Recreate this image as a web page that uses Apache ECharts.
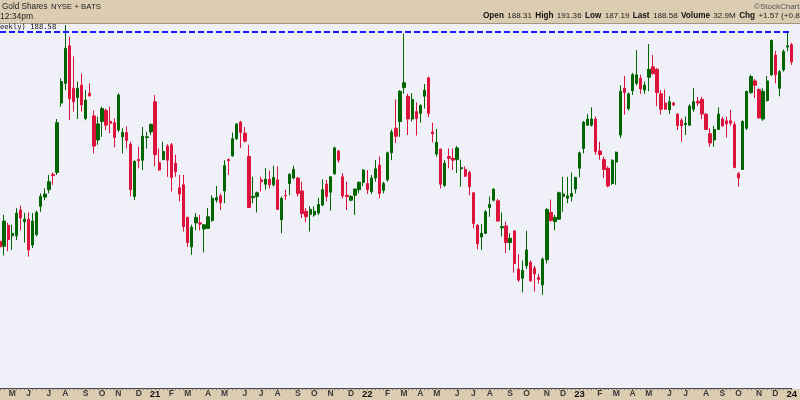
<!DOCTYPE html>
<html><head><meta charset="utf-8">
<script src="https://cdn.jsdelivr.net/npm/echarts@6/dist/echarts.min.js"></script>
<style>html,body{margin:0;padding:0;background:#F0F0F8}#c{width:800px;height:400px}</style>
</head><body><div id="c"></div>
<script>
// Weekly candles, first week starting Monday 2020-04-13
const firstWeek = '2020-04-13';
const openP = [
159.3,158.5,161.9,160.2,160.2,164.4,162.5,162.9,158.7,160.4,
165.0,166.5,167.7,170.2,170.5,181.8,185.0,191.1,184.2,182.7,
184.7,179.3,183.4,179.7,175.8,178.8,180.6,178.8,178.6,177.4,
176.3,177.0,175.1,166.6,172.6,172.5,176.2,177.1,182.0,172.1,
172.6,174.8,175.0,172.0,168.0,168.5,163.2,158.4,162.3,162.3,
161.3,161.4,162.7,166.0,166.7,167.5,172.6,173.2,176.0,178.7,
176.9,173.1,166.4,166.6,169.3,168.6,169.4,168.5,169.3,162.8,
166.8,168.7,169.6,169.6,167.5,164.2,163.7,163.6,163.9,165.2,
168.6,167.3,170.3,174.0,169.8,166.8,166.0,166.8,167.7,168.9,
168.7,167.4,169.6,171.7,167.6,169.3,173.7,177.7,178.8,184.3,
182.9,179.2,180.4,180.1,182.9,185.9,177.1,173.5,174.3,168.4,
173.1,172.8,172.6,171.1,171.0,170.5,167.2,161.9,160.0,160.6,
164.8,166.0,165.9,161.5,161.8,159.1,161.0,154.8,153.3,155.3,
155.9,154.9,153.4,152.2,156.3,164.0,162.5,162.9,166.6,166.3,
166.6,167.8,171.2,174.4,178.2,178.2,179.2,174.0,172.6,171.2,
168.7,172.2,176.6,184.2,180.9,183.8,185.0,185.8,183.9,186.0,
187.7,187.3,183.3,181.8,180.7,181.8,180.0,179.0,178.3,178.2,
180.8,182.1,182.4,180.0,176.8,175.8,177.5,179.2,178.9,178.9,
178.3,170.3,171.0,177.7,183.5,185.4,184.0,179.2,182.2,186.4,
189.6,184.2,187.2,190.9,191.3];
const closeP = [
158.4,162.6,159.6,160.6,163.9,163.1,162.9,157.9,162.6,164.0,
166.6,167.0,169.0,170.0,178.6,185.3,190.7,182.5,182.0,184.2,
181.5,182.3,183.0,174.8,178.4,180.9,178.2,178.5,176.2,183.1,
177.0,175.7,167.7,172.3,172.4,176.4,176.3,178.3,173.4,170.9,
173.9,172.5,169.7,170.6,167.0,161.7,159.1,161.6,163.2,162.1,
162.0,163.3,166.3,166.4,165.6,171.6,172.4,176.0,178.4,177.0,
175.6,164.8,166.6,167.2,169.0,169.4,168.5,169.7,164.5,166.3,
166.7,170.2,171.0,167.1,163.8,163.3,164.5,164.2,165.3,167.7,
166.6,169.8,174.5,172.5,166.7,166.6,166.6,167.8,168.9,170.9,
167.7,169.6,171.1,167.1,168.7,173.7,177.1,176.4,183.7,185.1,
179.2,182.4,179.3,181.4,183.9,180.1,176.8,175.4,168.6,172.0,
172.8,172.5,174.5,171.3,169.9,168.2,162.2,158.9,160.6,164.1,
165.3,167.8,162.6,161.7,159.1,159.8,155.7,153.0,154.6,157.9,
152.9,154.0,153.1,156.4,164.5,162.7,163.2,167.2,167.0,166.7,
167.1,169.7,173.7,178.7,179.2,179.2,173.9,173.4,171.0,168.3,
172.5,173.8,183.7,183.5,183.3,186.4,186.4,184.1,184.7,187.3,
186.6,183.5,180.8,180.8,182.0,181.5,178.1,178.1,178.5,181.3,
182.0,181.8,180.0,177.5,175.3,177.5,180.0,178.1,178.4,178.5,
171.3,169.6,178.8,183.7,186.1,184.7,179.4,183.7,185.4,192.0,
186.4,186.9,190.2,191.1,188.5];
const lowP = [
158.2,157.0,157.7,157.9,159.5,161.1,159.1,156.8,158.2,160.1,
164.1,166.0,167.1,168.5,170.1,181.2,183.9,179.0,180.4,179.2,
180.4,179.0,182.8,173.6,175.0,176.3,177.4,176.9,174.6,177.1,
173.6,174.4,166.6,166.0,171.2,170.9,174.4,176.6,171.5,170.8,
172.5,169.8,167.4,169.8,165.8,160.9,158.4,157.1,161.1,161.1,
157.5,161.3,162.5,165.6,164.4,165.5,170.1,173.1,175.8,174.5,
175.4,164.7,165.5,164.0,167.4,167.7,167.9,168.2,164.4,160.6,
166.0,166.8,169.4,166.6,163.1,162.4,160.9,163.3,163.6,165.0,
165.8,164.3,170.1,172.1,166.3,164.4,165.8,163.6,167.1,168.3,
167.0,167.0,169.0,166.3,167.1,169.0,172.5,175.3,176.3,183.3,
176.6,178.8,176.5,178.6,180.9,179.5,175.4,173.1,167.9,168.2,
171.2,170.9,170.4,168.2,169.8,166.8,161.4,158.0,157.9,160.5,
163.3,165.8,162.5,160.1,157.4,157.9,154.2,152.7,151.0,154.8,
152.7,151.1,152.4,150.6,155.7,162.5,161.1,162.8,164.1,165.5,
165.8,167.1,169.7,173.6,178.1,178.0,173.4,172.6,169.6,168.1,
168.5,168.5,176.1,179.9,180.6,183.1,184.7,183.3,183.3,183.7,
186.4,181.3,179.9,180.7,180.0,181.3,177.4,175.5,176.6,178.1,
180.4,181.3,179.2,177.4,174.7,174.7,177.4,177.9,176.2,178.1,
171.2,168.2,170.9,177.4,183.3,182.6,179.2,178.9,182.0,186.2,
185.0,182.9,186.9,190.2,188.0];
const highP = [
164.4,163.6,162.3,162.0,164.7,165.1,163.9,164.0,163.9,164.3,
167.1,167.9,170.1,170.5,179.2,185.8,194.5,192.6,189.4,185.3,
186.6,183.9,185.0,180.6,179.6,181.2,180.9,181.2,179.3,183.4,
177.7,178.0,175.5,172.5,174.7,177.9,177.1,178.5,183.1,174.4,
175.5,175.1,175.3,173.4,170.1,170.1,163.3,162.0,163.9,163.6,
162.1,164.7,166.8,168.3,167.1,172.5,172.8,177.0,178.5,178.9,
177.9,175.0,169.8,167.4,169.8,171.2,170.8,171.6,171.5,166.6,
167.7,170.4,171.6,169.8,169.0,164.7,165.0,165.0,166.4,169.4,
169.3,169.9,174.7,174.2,170.4,169.0,166.8,167.9,169.0,171.0,
170.9,170.1,172.5,173.1,169.0,173.9,177.5,182.4,183.9,193.1,
183.3,183.4,181.9,181.6,184.9,186.1,178.6,177.6,174.4,172.5,
174.4,174.4,174.8,172.6,171.5,170.8,167.3,162.1,162.1,164.4,
166.6,167.9,166.2,164.0,162.5,160.6,161.1,157.2,156.2,161.0,
156.2,155.3,154.0,156.7,164.7,166.1,163.6,167.4,169.8,169.8,
170.5,169.8,173.9,178.9,180.0,181.1,179.6,175.5,173.1,171.5,
172.6,173.9,184.7,186.2,183.5,186.7,190.4,186.4,185.3,191.4,
189.6,187.5,183.9,184.0,182.9,182.0,180.1,179.3,179.6,181.6,
184.2,182.8,182.8,180.1,177.7,178.1,181.1,179.6,179.6,180.7,
178.8,170.6,179.0,183.8,186.4,185.7,184.2,184.2,186.2,192.1,
190.3,187.2,190.5,193.4,191.6];
const monthLetters = ['J','F','M','A','M','J','J','A','S','O','N','D'];
const resistanceLevel = 193.4;
const quoteLabels = ['Open', 'High', 'Low', 'Last', 'Volume', 'Chg'];
const quoteValues = ['188.31', '191.36', '187.19', '188.58', '32.9M', '+1.57 (+0.84%)'];

const weeks = [];
(function () {
  const t0 = Date.parse(firstWeek + 'T00:00:00Z');
  for (let i = 0; i < openP.length; i++) weeks.push(new Date(t0 + i * 7 * 86400000).toISOString().slice(0, 10));
})();
const ohlc = openP.map((o, i) => [o, closeP[i], lowP[i], highP[i]]);

const F = '"Liberation Sans", Arial, sans-serif';
function txt(x, y, s, font, fill) {
  return { type: 'text', x: x, y: y, z: 20, style: { text: s, font: font, fill: fill, align: 'left', verticalAlign: 'middle' } };
}
const quoteText = quoteLabels.map((l, i) => '{b|' + l + '} {v|' + quoteValues[i] + '}').join(' ');

const chart = echarts.init(document.getElementById('c'), null, { renderer: 'canvas' });
chart.setOption({
  animation: false,
  backgroundColor: '#F0F0F8',
  grid: { left: 0, right: 1.7, top: 23, bottom: 12 },
  xAxis: {
    type: 'category', data: weeks, boundaryGap: false, z: 10,
    axisLine: { lineStyle: { color: '#444', width: 1 } },
    axisTick: { show: true, interval: 0, length: 2, lineStyle: { color: '#666' } },
    splitLine: { show: false },
    axisLabel: {
      interval: (i, v) => i > 0 && v.slice(5, 7) !== weeks[i - 1].slice(5, 7),
      margin: 1,
      formatter: (v) => { const m = +v.slice(5, 7); return m === 1 ? '{y|' + v.slice(2, 4) + '}' : '{m|' + monthLetters[m - 1] + '}'; },
      rich: {
        m: { fontFamily: 'Liberation Sans', fontSize: 8.5, fontWeight: 'bold', color: '#3a3a3a' },
        y: { fontFamily: 'Liberation Sans', fontSize: 9.5, fontWeight: 'bold', color: '#111' }
      }
    }
  },
  yAxis: { type: 'value', min: 135.44, max: 194.82, show: false, splitLine: { show: false } },
  series: [
    { type: 'line', data: [], z: 1, silent: true,
      markLine: { silent: true, symbol: 'none', label: { show: false }, animation: false,
        lineStyle: { color: '#1a1aff', width: 2, type: [6, 3] }, data: [{ yAxis: resistanceLevel }] } },
    { type: 'candlestick', data: ohlc, z: 3, clip: false, barWidth: 2.8,
      itemStyle: { color: '#006400', color0: '#DC143C', borderColor: '#006400', borderColor0: '#DC143C', borderWidth: 1 } }
  ],
  graphic: [
    { type: 'rect', z: 5, shape: { x: 0, y: 0, width: 800, height: 23 }, style: { fill: '#DCCDB2' } },
    { type: 'line', z: 6, shape: { x1: 0, y1: 23.5, x2: 800, y2: 23.5 }, style: { stroke: '#A09682', lineWidth: 1 } },
    { type: 'rect', z: 5, shape: { x: 0, y: 389, width: 800, height: 11 }, style: { fill: '#DCCDB2' } },
    txt(2, 7, 'Gold Shares', '8.2px ' + F, '#222'),
    txt(51, 7, 'NYSE + BATS', '7.8px ' + F, '#222'),
    txt(0, 16.5, '12:34pm', '8.5px ' + F, '#222'),
    txt(754, 6.5, '\u00A9StockCharts.com', '8px ' + F, '#555'),
    { type: 'text', x: 483, y: 16, z: 20, style: { text: quoteText, align: 'left', verticalAlign: 'middle',
        rich: { b: { font: 'bold 8.2px ' + F, fill: '#111' }, v: { font: '8.1px ' + F, fill: '#222' } } } },
    txt(-8.7, 27, '(Weekly) 188.58', '7.2px "DejaVu Sans Mono", monospace', '#111')
  ]
});
</script>
</body></html>
